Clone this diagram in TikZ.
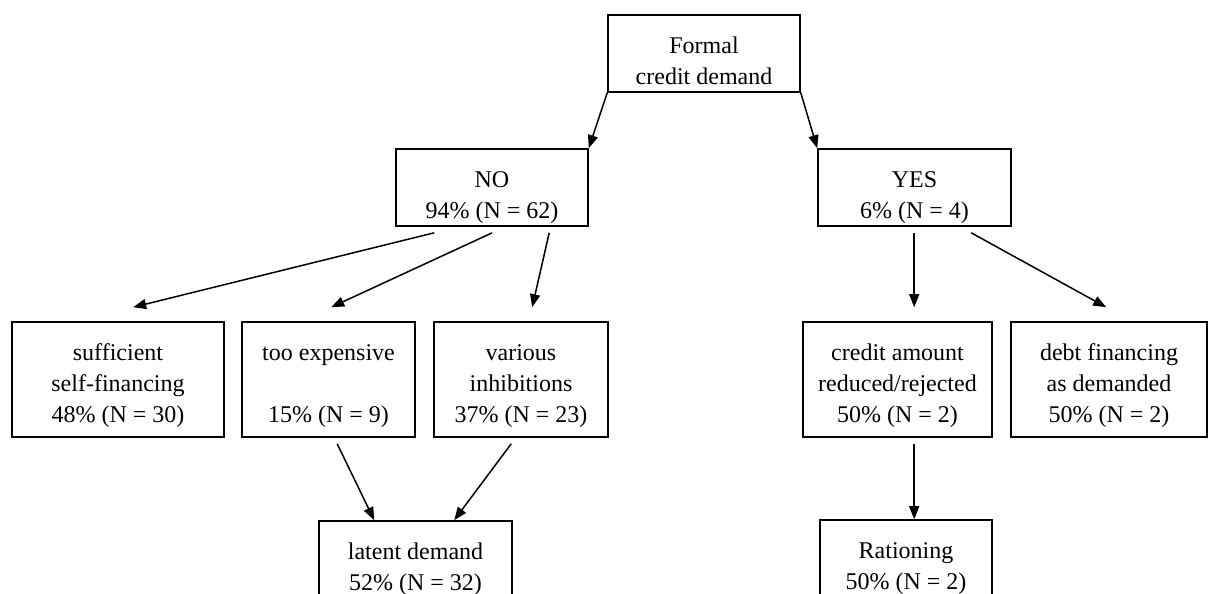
\documentclass[tikz,border=0pt]{standalone}
\usepackage{fontspec}
\setmainfont{Liberation Serif}
\usetikzlibrary{arrows.meta}
\begin{document}
\begin{tikzpicture}[x=1pt,y=-1pt,
  box/.style={draw,line width=1.6pt,inner sep=0pt,minimum height=77pt},
  tall/.style={box,minimum height=115pt},
  cut/.style={box,minimum height=130pt},
  txt/.style={anchor=north,inner sep=0pt,align=center,font=\fontsize{24}{31}\selectfont},
  arr/.style={line width=1.5pt,-{Triangle[length=13pt,width=10pt]}}]
\useasboundingbox (0,0) rectangle (1211,594);
\fill[white] (0,0) rectangle (1211,594);
% level 1
\node[box,minimum width=192pt] (top) at (704,53.5) {};
\node[txt] (toptxt) at ([shift={(0,22)}]top.north) {\rule{0pt}{17pt}Formal\\credit demand};
% level 2
\node[box,minimum width=192pt] (no) at (492,187.5) {};
\node[txt] (notxt) at ([shift={(0,22)}]no.north) {\rule{0pt}{17pt}NO\\94\% (N = 62)};
\node[box,minimum width=193pt] (yes) at (914.5,187.5) {};
\node[txt] (yestxt) at ([shift={(0,22)}]yes.north) {\rule{0pt}{17pt}YES\\6\% (N = 4)};
% level 3
\node[tall,minimum width=212pt] (suff) at (118,379.5) {};
\node[txt] (sufftxt) at ([shift={(0,22)}]suff.north) {\rule{0pt}{17pt}sufficient\\self-financing\\48\% (N = 30)};
\node[tall,minimum width=173pt] (exp) at (328.5,379.5) {};
\node[txt] (exptxt) at ([shift={(0,22)}]exp.north) {\rule{0pt}{17pt}too expensive\\[31pt]15\% (N = 9)};
\node[tall,minimum width=174pt] (var) at (521,379.5) {};
\node[txt] (vartxt) at ([shift={(0,22)}]var.north) {\rule{0pt}{17pt}various\\inhibitions\\37\% (N = 23)};
\node[tall,minimum width=189pt] (cred) at (897.5,379.5) {};
\node[txt] (credtxt) at ([shift={(0,22)}]cred.north) {\rule{0pt}{17pt}credit amount\\reduced/rejected\\50\% (N = 2)};
\node[tall,minimum width=196pt] (debt) at (1109,379.5) {};
\node[txt] (debttxt) at ([shift={(0,22)}]debt.north) {\rule{0pt}{17pt}debt financing\\as demanded\\50\% (N = 2)};
% level 4
\node[cut,minimum width=193pt] (lat) at (415.5,586) {};
\node[txt] (lattxt) at ([shift={(0,22)}]lat.north) {\rule{0pt}{17pt}latent demand\\52\% (N = 32)};
\node[cut,minimum width=172pt] (rat) at (906,585) {};
\node[txt] (rattxt) at ([shift={(0,22)}]rat.north) {\rule{0pt}{17pt}Rationing\\50\% (N = 2)};
% connectors
\draw[arr] (top.south west) -- (no.north east);
\draw[arr] (top.south east) -- (yes.north west);
\draw[arr] ([shift={(39,6)}]no.south west) -- ([shift={(122,-14)}]suff.north west);
\draw[arr] ([shift={(97,6)}]no.south west) -- ([shift={(90,-14)}]exp.north west);
\draw[arr] ([shift={(154,6)}]no.south west) -- ([shift={(99,-14)}]var.north west);
\draw[arr] ([shift={(97,6)}]yes.south west) -- ([shift={(112,-14)}]cred.north west);
\draw[arr] ([shift={(154,6)}]yes.south west) -- ([shift={(96,-14)}]debt.north west);
\draw[arr] ([shift={(96,6)}]exp.south west) -- ([shift={(56,0)}]lat.north west);
\draw[arr] ([shift={(78,6)}]var.south west) -- ([shift={(136,0)}]lat.north west);
\draw[arr] ([shift={(112,6)}]cred.south west) -- ([shift={(95,0)}]rat.north west);
\end{tikzpicture}
\end{document}
